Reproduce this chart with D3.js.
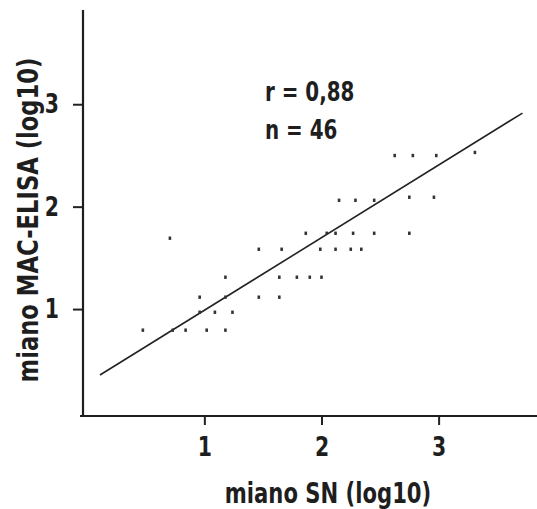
<!DOCTYPE html>
<html>
<head>
<meta charset="utf-8">
<script src="https://cdn.jsdelivr.net/npm/d3@7"></script>
<style>
  body { margin: 0; background: #fff; }
  text { font-family: "DejaVu Sans Condensed", "Liberation Sans Narrow", "DejaVu Sans", sans-serif; font-stretch: condensed; font-weight: bold; fill: #1e1e1e; }
</style>
</head>
<body>
<div id="chart-area"></div>
<script>
// Data -------------------------------------------------------
const snValues = [0.475, 0.84, 1.02, 1.18, 0.73, 1.09, 1.24, 0.96, 0.96, 1.18,
  1.465, 1.64, 1.18, 1.64, 1.79, 1.90, 2.0, 1.465, 1.66, 1.99,
  2.12, 2.25, 2.34, 0.706, 1.866, 2.045, 2.12, 2.27, 2.45, 2.75,
  2.15, 2.29, 2.45, 2.75, 2.96, 2.625, 2.78, 2.98, 3.31]
const elisaValues = [0.795, 0.795, 0.795, 0.795, 0.795, 0.97, 0.97, 0.97, 1.117, 1.117,
  1.117, 1.117, 1.312, 1.312, 1.312, 1.312, 1.312, 1.585, 1.585, 1.585,
  1.585, 1.585, 1.585, 1.693, 1.741, 1.741, 1.741, 1.741, 1.741, 1.741,
  2.063, 2.063, 2.063, 2.093, 2.093, 2.50, 2.50, 2.50, 2.53]
const tickValues = [1, 2, 3]
const fitSlope = 0.709
const fitIntercept = 0.279
const fitRange = [0.109, 3.716]
const statLines = ["r = 0,88", "n = 46"]

// Canvas setup -----------------------------------------
const MARGIN = {LEFT: 83, RIGHT: 0, TOP: 10, BOTTOM: 93}
const WIDTH = 537 - MARGIN.LEFT - MARGIN.RIGHT
const HEIGHT = 509 - MARGIN.TOP - MARGIN.BOTTOM
const NARROW = 0.84 // the scan uses a narrow face, squeeze DejaVu a bit more

const svg = d3.select("#chart-area").append("svg")
  .attr("width", WIDTH + MARGIN.LEFT + MARGIN.RIGHT)
  .attr("height", HEIGHT + MARGIN.TOP + MARGIN.BOTTOM)

const g = svg.append("g")
  .attr("transform", `translate(${MARGIN.LEFT}, ${MARGIN.TOP})`)

const xScale = d3.scaleLinear().domain([-0.036, 3.84]).range([0, WIDTH])
const yScale = d3.scaleLinear().domain([-0.044, 3.92]).range([HEIGHT, 0])

// Axes ---------------------------------------------------
const xAxis = g.append("g")
  .attr("transform", `translate(0, ${HEIGHT})`)
  .call(d3.axisBottom(xScale).tickValues(tickValues).tickFormat(d3.format("d"))
    .tickSize(9).tickSizeOuter(0).tickPadding(12))
xAxis.select(".domain").remove()
xAxis.selectAll("line").attr("stroke", "#222").attr("stroke-width", 2)
xAxis.selectAll("text")
  .attr("font-size", "27px")
  .attr("dy", "0.71em")
  .attr("y", 0)
  .attr("transform", `translate(0, 21) scale(${NARROW}, 1)`)

const yAxis = g.append("g")
  .call(d3.axisLeft(yScale).tickValues(tickValues).tickFormat(d3.format("d"))
    .tickSize(10).tickSizeOuter(0).tickPadding(9))
yAxis.select(".domain").remove()
yAxis.selectAll("line").attr("stroke", "#222").attr("stroke-width", 2)
yAxis.selectAll("text")
  .attr("font-size", "27px")
  .attr("x", 0)
  .attr("transform", `translate(-24, 0) scale(${NARROW}, 1)`)

// axis lines
g.append("line")
  .attr("x1", -3).attr("x2", WIDTH)
  .attr("y1", HEIGHT).attr("y2", HEIGHT)
  .attr("stroke", "#1e1e1e").attr("stroke-width", 2.2)
g.append("line")
  .attr("x1", 0).attr("x2", 0)
  .attr("y1", 0).attr("y2", HEIGHT)
  .attr("stroke", "#1e1e1e").attr("stroke-width", 2.2)

// Fitted line --------------------------------------------
const fit = fitRange.map(x => [x, fitIntercept + fitSlope * x])
g.append("path")
  .datum(fit)
  .attr("fill", "none")
  .attr("stroke", "#222")
  .attr("stroke-width", 1.6)
  .attr("d", d3.line().x(d => xScale(d[0])).y(d => yScale(d[1])))

// Points -------------------------------------------------
g.selectAll("rect.pt")
  .data(snValues.map((x, i) => ({x: x, y: elisaValues[i]})))
  .enter().append("rect")
  .attr("class", "pt")
  .attr("x", d => xScale(d.x) - 1.3)
  .attr("y", d => yScale(d.y) - 1.6)
  .attr("width", 2.6)
  .attr("height", 3.4)
  .attr("fill", "#333")

// Labels -------------------------------------------------
g.selectAll("text.stat")
  .data(statLines)
  .enter().append("text")
  .attr("class", "stat")
  .attr("transform", (d, i) => `translate(${265 - MARGIN.LEFT}, ${101 - MARGIN.TOP + i * 38}) scale(0.82, 1)`)
  .attr("font-size", "27px")
  .text(d => d)

svg.append("text")
  .attr("transform", `translate(328, 503) scale(${NARROW}, 1)`)
  .attr("text-anchor", "middle")
  .attr("font-size", "28px")
  .text("miano SN (log10)")

svg.append("text")
  .attr("transform", `translate(38, 220) rotate(-90) scale(0.9, 1)`)
  .attr("text-anchor", "middle")
  .attr("font-size", "28px")
  .text("miano MAC-ELISA (log10)")
</script>
</body>
</html>
